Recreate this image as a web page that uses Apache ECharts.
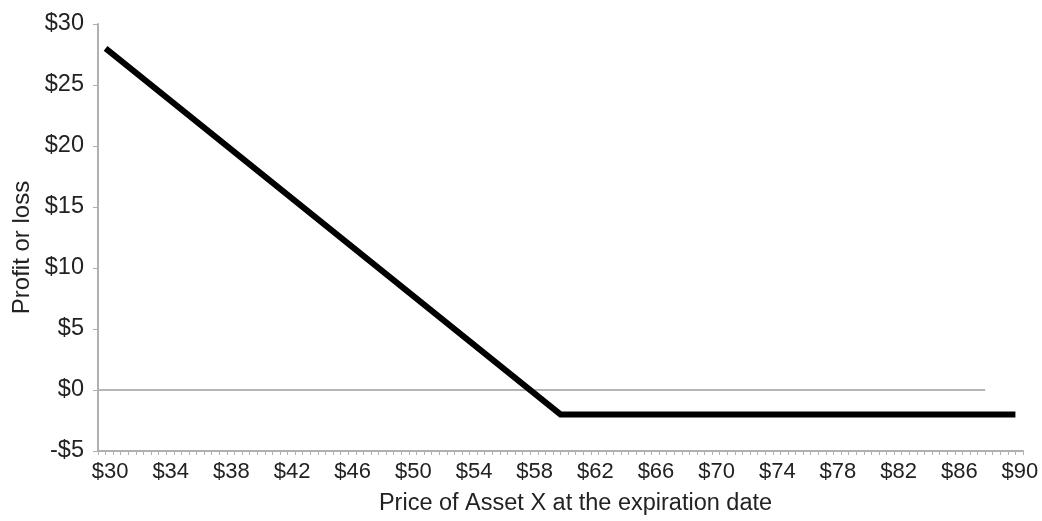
<!DOCTYPE html>
<html>
<head>
<meta charset="utf-8">
<script src="https://cdn.jsdelivr.net/npm/echarts@6/dist/echarts.min.js"></script>
<style>
html,body{margin:0;padding:0;background:#fff;}
#chart{width:1042px;height:521px;}
</style>
</head>
<body>
<div id="chart"></div>
<script>
// Payoff line: price of asset at expiration vs profit/loss
const prices = [30, 60, 90];
const profit = [28, -2, -2];
// Zero reference line
const zeroPrices = [29.5, 88];
const zeroValues = [0, 0];
// Axis ticks
const xLabelValues = [30, 34, 38, 42, 46, 50, 54, 58, 62, 66, 70, 74, 78, 82, 86, 90];
const yTicks = [-5, 0, 5, 10, 15, 20, 25, 30];

const chart = echarts.init(document.getElementById('chart'));
const fmtMoney = v => (v < 0 ? '-$' + (-v) : '$' + v);
const font = 'Liberation Sans, Arial, sans-serif';

chart.setOption({
  animation: false,
  backgroundColor: '#ffffff',
  grid: { left: 98, right: 19, top: 24, bottom: 69 },
  xAxis: {
    type: 'value',
    min: 29.5,
    max: 90.5,
    interval: 0.5,
    name: 'Price of Asset X at the expiration date',
    nameLocation: 'middle',
    nameGap: 41,
    nameTextStyle: { fontFamily: font, fontSize: 23.5, color: '#222', padding: [0, 0, 0, 30] },
    axisLine: { show: true, onZero: false, lineStyle: { color: '#b0b0b0', width: 2 } },
    axisTick: { show: true, length: 4, lineStyle: { color: '#b0b0b0', width: 1 } },
    axisLabel: {
      fontFamily: font, fontSize: 22, color: '#222', margin: 10,
      padding: [0, 0, 0, 9],
      showMinLabel: true, showMaxLabel: true,
      formatter: v => (xLabelValues.indexOf(v) >= 0 ? '$' + v : '')
    },
    splitLine: { show: false }
  },
  yAxis: {
    type: 'value',
    min: yTicks[0],
    max: yTicks[yTicks.length - 1],
    interval: 5,
    name: 'Profit or loss',
    nameLocation: 'middle',
    nameGap: 64,
    nameTextStyle: { fontFamily: font, fontSize: 24, color: '#222', padding: [0, 20, 0, 0] },
    axisLine: { show: true, lineStyle: { color: '#b0b0b0', width: 2 } },
    axisTick: { show: true, length: 5, lineStyle: { color: '#b0b0b0', width: 1 } },
    axisLabel: { fontFamily: font, fontSize: 23.5, color: '#222', margin: 14, formatter: fmtMoney },
    splitLine: { show: false }
  },
  series: [
    {
      type: 'line',
      data: zeroPrices.map((p, i) => [p, zeroValues[i]]),
      symbol: 'none',
      lineStyle: { color: '#b5b5b5', width: 2 },
      silent: true,
      z: 1
    },
    {
      type: 'line',
      data: prices.map((p, i) => [p, profit[i]]),
      symbol: 'none',
      lineStyle: { color: '#000', width: 6, cap: 'butt', join: 'miter' },
      z: 2
    }
  ]
});
</script>
</body>
</html>
